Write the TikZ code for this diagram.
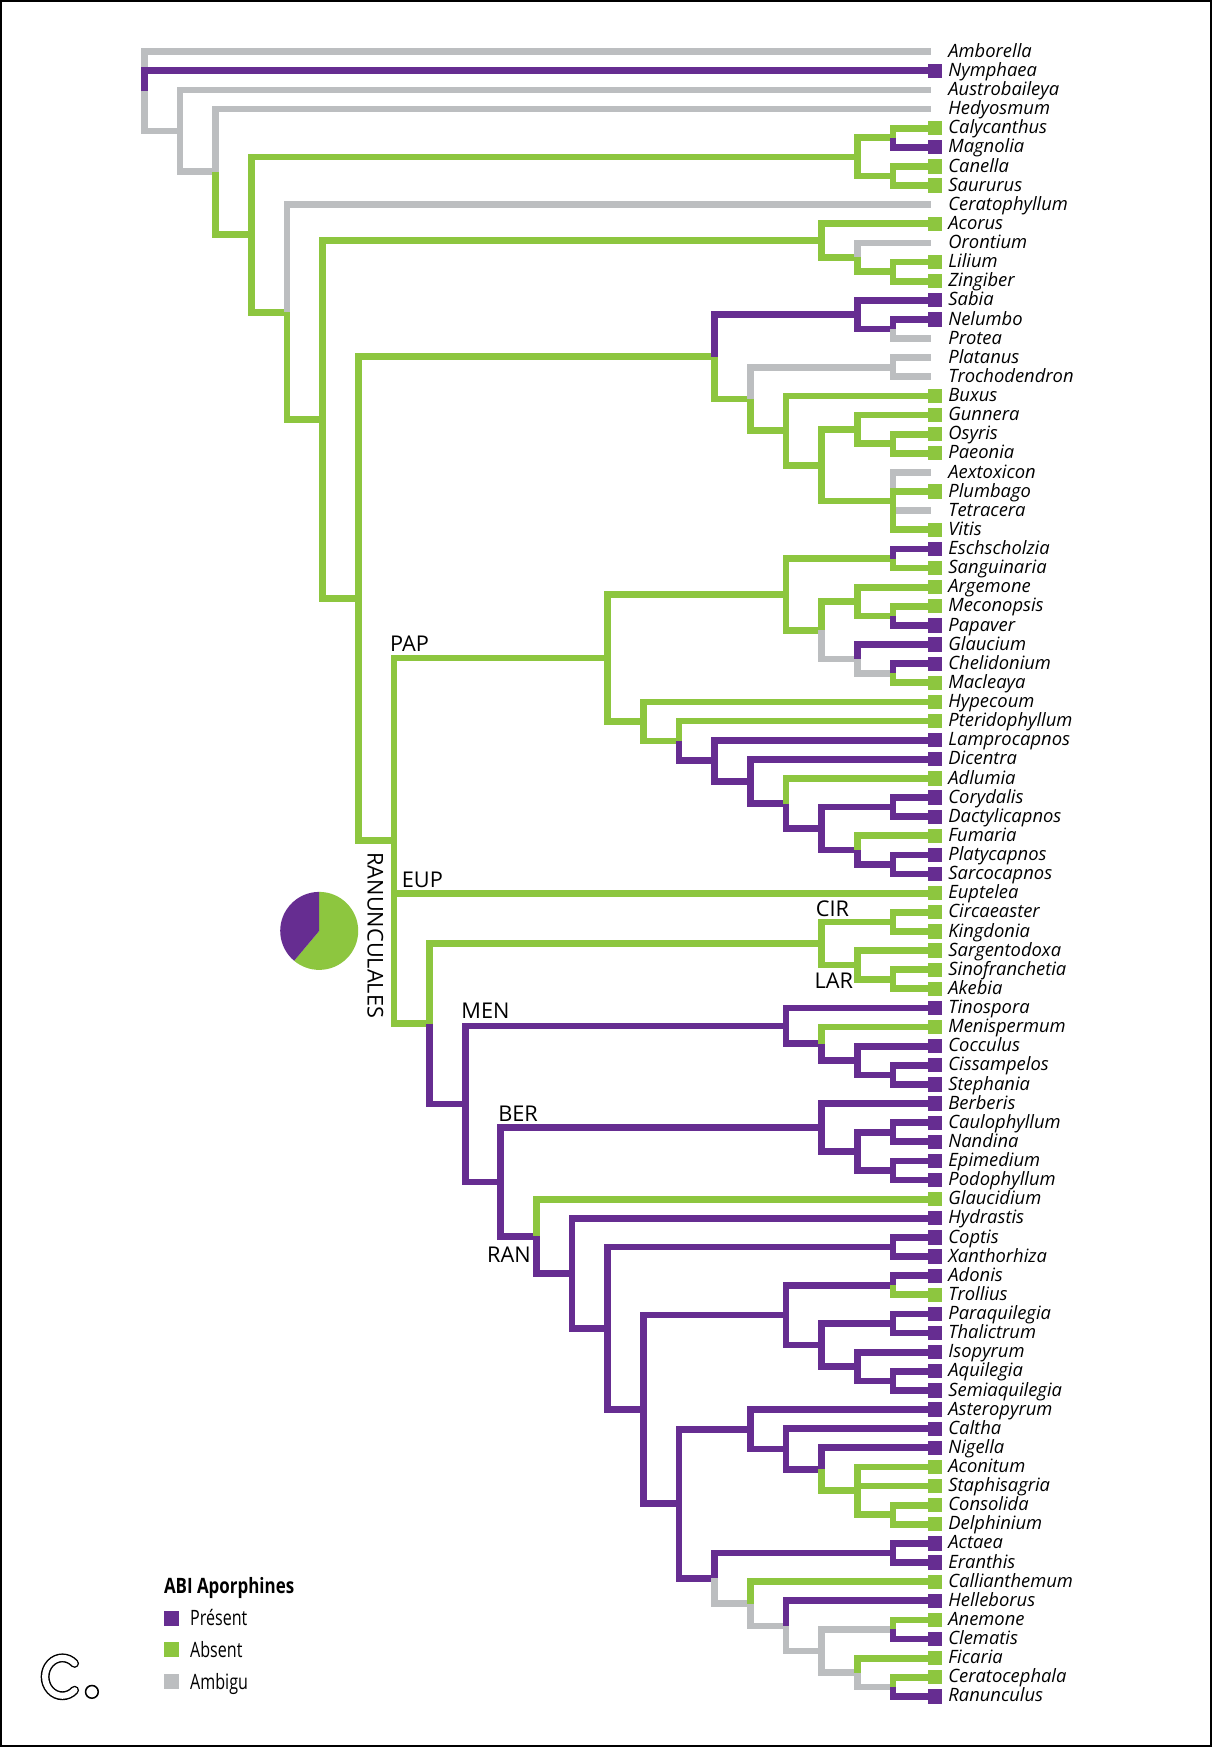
\documentclass[tikz,border=0pt]{standalone}
\usepackage{fontspec}
\setmainfont{Open Sans}
\usetikzlibrary{calc}
\definecolor{pu}{RGB}{102,45,145}
\definecolor{gr}{RGB}{141,198,63}
\definecolor{gy}{RGB}{188,190,192}
\def\gyname{gy}
\newcommand\tnd[4]{%
  \coordinate (tmp) at ($(#3)!0.5!(#4)$);
  \coordinate (#1) at (tmp -| c#2);}
\newcommand\tbr[3]{\draw[bra,#1] (#2) |- (#3);}
\def\leaflist{Amborella/gy,Nymphaea/pu,Austrobaileya/gy,Hedyosmum/gy,Calycanthus/gr,Magnolia/pu,Canella/gr,Saururus/gr,Ceratophyllum/gy,Acorus/gr,Orontium/gy,Lilium/gr,Zingiber/gr,Sabia/pu,Nelumbo/pu,Protea/gy,Platanus/gy,Trochodendron/gy,Buxus/gr,Gunnera/gr,Osyris/gr,Paeonia/gr,Aextoxicon/gy,Plumbago/gr,Tetracera/gy,Vitis/gr,Eschscholzia/pu,Sanguinaria/gr,Argemone/gr,Meconopsis/gr,Papaver/pu,Glaucium/pu,Chelidonium/pu,Macleaya/gr,Hypecoum/gr,Pteridophyllum/gr,Lamprocapnos/pu,Dicentra/pu,Adlumia/gr,Corydalis/pu,Dactylicapnos/pu,Fumaria/gr,Platycapnos/pu,Sarcocapnos/pu,Euptelea/gr,Circaeaster/gr,Kingdonia/gr,Sargentodoxa/gr,Sinofranchetia/gr,Akebia/gr,Tinospora/pu,Menispermum/gr,Cocculus/pu,Cissampelos/pu,Stephania/pu,Berberis/pu,Caulophyllum/pu,Nandina/pu,Epimedium/pu,Podophyllum/pu,Glaucidium/gr,Hydrastis/pu,Coptis/pu,Xanthorhiza/pu,Adonis/pu,Trollius/gr,Paraquilegia/pu,Thalictrum/pu,Isopyrum/pu,Aquilegia/pu,Semiaquilegia/pu,Asteropyrum/pu,Caltha/pu,Nigella/pu,Aconitum/gr,Staphisagria/gr,Consolida/gr,Delphinium/gr,Actaea/pu,Eranthis/pu,Callianthemum/gr,Helleborus/pu,Anemone/gr,Clematis/pu,Ficaria/gr,Ceratocephala/gr,Ranunculus/pu}
\begin{document}
\begin{tikzpicture}[x=1pt,y=-1pt,
  bra/.style={line width=6pt,line join=miter,line cap=butt},
  leaf/.style={font=\fontsize{16.5}{18}\selectfont\itshape,inner sep=0pt,anchor=base west},
  lab/.style={font=\fontsize{19.5}{22}\selectfont,inner sep=0pt,anchor=base west},
  leg/.style={font=\fontsize{19}{21}\selectfont,inner sep=0pt,anchor=base west}]
\useasboundingbox (0,0) rectangle (1088,1568);
\fill[white] (0,0) rectangle (1088,1568);
\draw[line width=2.2pt] (1.1,1.1) rectangle (1086.9,1566.9);
% columns
\foreach \k in {0,...,21} \coordinate (c\k) at ({129.5+32*\k},0);
% leaves
\foreach \nm/\cl [count=\i from 0] in \leaflist {
  \coordinate (\nm) at (836,{46.4+17.165*\i});
  \node[leaf] (t\nm) at (851,{46.4+17.165*\i+5}) {\nm};
}
% internal nodes
\tnd{nMagA}{21}{Calycanthus}{Magnolia}
\tnd{nMagB}{21}{Canella}{Saururus}
\tnd{nMag}{20}{nMagA}{nMagB}
\tnd{nMoC}{21}{Lilium}{Zingiber}
\tnd{nMoB}{20}{Orontium}{nMoC}
\tnd{nMo}{19}{Acorus}{nMoB}
\tnd{nNel}{21}{Nelumbo}{Protea}
\tnd{nSab}{20}{Sabia}{nNel}
\tnd{nPla}{21}{Platanus}{Trochodendron}
\tnd{nL}{21}{Osyris}{Paeonia}
\tnd{nK}{20}{Gunnera}{nL}
\tnd{nN}{21}{Aextoxicon}{Vitis}
\tnd{nJ}{19}{nK}{nN}
\tnd{nI}{18}{Buxus}{nJ}
\tnd{nH}{17}{nPla}{nI}
\tnd{nG}{16}{nSab}{nH}
\tnd{nES}{21}{Eschscholzia}{Sanguinaria}
\tnd{nArgM}{21}{Meconopsis}{Papaver}
\tnd{nArg}{20}{Argemone}{nArgM}
\tnd{nGlM}{21}{Chelidonium}{Macleaya}
\tnd{nGlau}{20}{Glaucium}{nGlM}
\tnd{nPapB}{19}{nArg}{nGlau}
\tnd{nPapA}{18}{nES}{nPapB}
\tnd{nPlat}{21}{Platycapnos}{Sarcocapnos}
\tnd{nFumG}{20}{Fumaria}{nPlat}
\tnd{nCory}{21}{Corydalis}{Dactylicapnos}
\tnd{nFumF}{19}{nCory}{nFumG}
\tnd{nFumE}{18}{Adlumia}{nFumF}
\tnd{nFumD}{17}{Dicentra}{nFumE}
\tnd{nFumC}{16}{Lamprocapnos}{nFumD}
\tnd{nFumB}{15}{Pteridophyllum}{nFumC}
\tnd{nFum}{14}{Hypecoum}{nFumB}
\tnd{nPap}{13}{nPapA}{nFum}
\tnd{nCIR}{21}{Circaeaster}{Kingdonia}
\tnd{nLARB}{21}{Sinofranchetia}{Akebia}
\tnd{nLAR}{20}{Sargentodoxa}{nLARB}
\tnd{nCL}{19}{nCIR}{nLAR}
\tnd{nMenD}{21}{Cissampelos}{Stephania}
\tnd{nMenC}{20}{Cocculus}{nMenD}
\tnd{nMenB}{19}{Menispermum}{nMenC}
\tnd{nMen}{18}{Tinospora}{nMenB}
\tnd{nBerC}{21}{Caulophyllum}{Nandina}
\tnd{nBerD}{21}{Epimedium}{Podophyllum}
\tnd{nBerB}{20}{nBerC}{nBerD}
\tnd{nBer}{19}{Berberis}{nBerB}
\tnd{nCoX}{21}{Coptis}{Xanthorhiza}
\tnd{nAdon}{21}{Adonis}{Trollius}
\tnd{nPara}{21}{Paraquilegia}{Thalictrum}
\tnd{nThD}{21}{Aquilegia}{Semiaquilegia}
\tnd{nThC}{20}{Isopyrum}{nThD}
\tnd{nThB}{19}{nPara}{nThC}
\tnd{nTh}{18}{nAdon}{nThB}
\tnd{nCons}{21}{Consolida}{Delphinium}
\tnd{nHelD}{20}{Aconitum}{nCons}
\tnd{nHelC}{19}{Nigella}{nHelD}
\tnd{nHelB}{18}{Caltha}{nHelC}
\tnd{nHelA}{17}{Asteropyrum}{nHelB}
\tnd{nActE}{21}{Actaea}{Eranthis}
\tnd{nFicB}{21}{Ceratocephala}{Ranunculus}
\tnd{nFic}{20}{Ficaria}{nFicB}
\tnd{nAnem}{21}{Anemone}{Clematis}
\tnd{nHelH}{19}{nAnem}{nFic}
\tnd{nHelG}{18}{Helleborus}{nHelH}
\tnd{nHelF}{17}{Callianthemum}{nHelG}
\tnd{nAct}{16}{nActE}{nHelF}
\tnd{nRanE}{15}{nHelA}{nAct}
\tnd{nRanD}{14}{nTh}{nRanE}
\tnd{nRanC}{13}{nCoX}{nRanD}
\tnd{nRanB}{12}{Hydrastis}{nRanC}
\tnd{nRan}{11}{Glaucidium}{nRanB}
\tnd{nQB}{10}{nBer}{nRan}
\tnd{nQ}{9}{nMen}{nQB}
\tnd{nRB}{8}{nCL}{nQ}
\tnd{nR}{7}{nPap}{nRB}
\tnd{nF}{6}{nG}{nR}
\tnd{nE}{5}{nMo}{nF}
\tnd{nD}{4}{Ceratophyllum}{nE}
\tnd{nC}{3}{nMag}{nD}
\tnd{nB}{2}{Hedyosmum}{nC}
\tnd{nA}{1}{Austrobaileya}{nB}
\tnd{nRoot}{0}{Amborella}{nA}
% branches
\tbr{gy}{nRoot}{Amborella} \tbr{gy}{nRoot}{nA} \tbr{pu}{nRoot}{Nymphaea}
\tbr{gy}{nA}{Austrobaileya} \tbr{gy}{nA}{nB}
\tbr{gy}{nB}{Hedyosmum} \tbr{gr}{nB}{nC}
\tbr{gr}{nC}{nMag} \tbr{gr}{nC}{nD}
\tbr{gr}{nMag}{nMagA} \tbr{gr}{nMag}{nMagB}
\tbr{gr}{nMagA}{Calycanthus} \tbr{pu}{nMagA}{Magnolia}
\tbr{gr}{nMagB}{Canella} \tbr{gr}{nMagB}{Saururus}
\tbr{gy}{nD}{Ceratophyllum} \tbr{gr}{nD}{nE}
\tbr{gr}{nE}{nMo} \tbr{gr}{nE}{nF}
\tbr{gr}{nMo}{Acorus} \tbr{gr}{nMo}{nMoB}
\tbr{gy}{nMoB}{Orontium} \tbr{gr}{nMoB}{nMoC}
\tbr{gr}{nMoC}{Lilium} \tbr{gr}{nMoC}{Zingiber}
\tbr{gr}{nF}{nG} \tbr{gr}{nF}{nR}
\tbr{pu}{nG}{nSab} \tbr{gr}{nG}{nH}
\tbr{pu}{nSab}{Sabia} \tbr{pu}{nSab}{nNel}
\tbr{pu}{nNel}{Nelumbo} \tbr{gy}{nNel}{Protea}
\tbr{gy}{nH}{nPla} \tbr{gr}{nH}{nI}
\tbr{gy}{nPla}{Platanus} \tbr{gy}{nPla}{Trochodendron}
\tbr{gr}{nI}{Buxus} \tbr{gr}{nI}{nJ}
\tbr{gr}{nJ}{nK} \tbr{gr}{nJ}{nN}
\tbr{gr}{nK}{Gunnera} \tbr{gr}{nK}{nL}
\tbr{gr}{nL}{Osyris} \tbr{gr}{nL}{Paeonia}
\tbr{gy}{nN}{Aextoxicon} \tbr{gy}{nN}{Tetracera} \tbr{gr}{nN}{Plumbago} \tbr{gr}{nN}{Vitis}
\tbr{gr}{nR}{nPap} \tbr{gr}{nR}{Euptelea} \tbr{gr}{nR}{nRB}
\tbr{gr}{nPap}{nPapA} \tbr{gr}{nPap}{nFum}
\tbr{gr}{nPapA}{nES} \tbr{gr}{nPapA}{nPapB}
\tbr{pu}{nES}{Eschscholzia} \tbr{gr}{nES}{Sanguinaria}
\tbr{gr}{nPapB}{nArg} \tbr{gy}{nPapB}{nGlau}
\tbr{gr}{nArg}{Argemone} \tbr{gr}{nArg}{nArgM}
\tbr{gr}{nArgM}{Meconopsis} \tbr{pu}{nArgM}{Papaver}
\tbr{pu}{nGlau}{Glaucium} \tbr{gy}{nGlau}{nGlM}
\tbr{pu}{nGlM}{Chelidonium} \tbr{gr}{nGlM}{Macleaya}
\tbr{gr}{nFum}{Hypecoum} \tbr{gr}{nFum}{nFumB}
\tbr{gr}{nFumB}{Pteridophyllum} \tbr{pu}{nFumB}{nFumC}
\tbr{pu}{nFumC}{Lamprocapnos} \tbr{pu}{nFumC}{nFumD}
\tbr{pu}{nFumD}{Dicentra} \tbr{pu}{nFumD}{nFumE}
\tbr{gr}{nFumE}{Adlumia} \tbr{pu}{nFumE}{nFumF}
\tbr{pu}{nFumF}{nCory} \tbr{pu}{nFumF}{nFumG}
\tbr{pu}{nCory}{Corydalis} \tbr{pu}{nCory}{Dactylicapnos}
\tbr{gr}{nFumG}{Fumaria} \tbr{pu}{nFumG}{nPlat}
\tbr{pu}{nPlat}{Platycapnos} \tbr{pu}{nPlat}{Sarcocapnos}
\tbr{gr}{nRB}{nCL} \tbr{pu}{nRB}{nQ}
\tbr{gr}{nCL}{nCIR} \tbr{gr}{nCL}{nLAR}
\tbr{gr}{nCIR}{Circaeaster} \tbr{gr}{nCIR}{Kingdonia}
\tbr{gr}{nLAR}{Sargentodoxa} \tbr{gr}{nLAR}{nLARB}
\tbr{gr}{nLARB}{Sinofranchetia} \tbr{gr}{nLARB}{Akebia}
\tbr{pu}{nQ}{nMen} \tbr{pu}{nQ}{nQB}
\tbr{pu}{nMen}{Tinospora} \tbr{pu}{nMen}{nMenB}
\tbr{gr}{nMenB}{Menispermum} \tbr{pu}{nMenB}{nMenC}
\tbr{pu}{nMenC}{Cocculus} \tbr{pu}{nMenC}{nMenD}
\tbr{pu}{nMenD}{Cissampelos} \tbr{pu}{nMenD}{Stephania}
\tbr{pu}{nQB}{nBer} \tbr{pu}{nQB}{nRan}
\tbr{pu}{nBer}{Berberis} \tbr{pu}{nBer}{nBerB}
\tbr{pu}{nBerB}{nBerC} \tbr{pu}{nBerB}{nBerD}
\tbr{pu}{nBerC}{Caulophyllum} \tbr{pu}{nBerC}{Nandina}
\tbr{pu}{nBerD}{Epimedium} \tbr{pu}{nBerD}{Podophyllum}
\tbr{gr}{nRan}{Glaucidium} \tbr{pu}{nRan}{nRanB}
\tbr{pu}{nRanB}{Hydrastis} \tbr{pu}{nRanB}{nRanC}
\tbr{pu}{nRanC}{nCoX} \tbr{pu}{nRanC}{nRanD}
\tbr{pu}{nCoX}{Coptis} \tbr{pu}{nCoX}{Xanthorhiza}
\tbr{pu}{nRanD}{nTh} \tbr{pu}{nRanD}{nRanE}
\tbr{pu}{nTh}{nAdon} \tbr{pu}{nTh}{nThB}
\tbr{pu}{nAdon}{Adonis} \tbr{gr}{nAdon}{Trollius}
\tbr{pu}{nThB}{nPara} \tbr{pu}{nThB}{nThC}
\tbr{pu}{nPara}{Paraquilegia} \tbr{pu}{nPara}{Thalictrum}
\tbr{pu}{nThC}{Isopyrum} \tbr{pu}{nThC}{nThD}
\tbr{pu}{nThD}{Aquilegia} \tbr{pu}{nThD}{Semiaquilegia}
\tbr{pu}{nRanE}{nHelA} \tbr{pu}{nRanE}{nAct}
\tbr{pu}{nHelA}{Asteropyrum} \tbr{pu}{nHelA}{nHelB}
\tbr{pu}{nHelB}{Caltha} \tbr{pu}{nHelB}{nHelC}
\tbr{pu}{nHelC}{Nigella} \tbr{gr}{nHelC}{nHelD}
\tbr{gr}{nHelD}{Aconitum} \tbr{gr}{nHelD}{Staphisagria} \tbr{gr}{nHelD}{nCons}
\tbr{gr}{nCons}{Consolida} \tbr{gr}{nCons}{Delphinium}
\tbr{pu}{nAct}{nActE} \tbr{gy}{nAct}{nHelF}
\tbr{pu}{nActE}{Actaea} \tbr{pu}{nActE}{Eranthis}
\tbr{gr}{nHelF}{Callianthemum} \tbr{gy}{nHelF}{nHelG}
\tbr{pu}{nHelG}{Helleborus} \tbr{gy}{nHelG}{nHelH}
\tbr{gy}{nHelH}{nAnem} \tbr{gy}{nHelH}{nFic}
\tbr{gr}{nAnem}{Anemone} \tbr{pu}{nAnem}{Clematis}
\tbr{gr}{nFic}{Ficaria} \tbr{gy}{nFic}{nFicB}
\tbr{gr}{nFicB}{Ceratocephala} \tbr{pu}{nFicB}{Ranunculus}
% leaf squares
\foreach \nm/\cl in \leaflist {
  \ifx\cl\gyname\else
    \fill[\cl] ($(\nm)+(-3,-6.4)$) rectangle ($(\nm)+(9.6,6.4)$);
  \fi
}
% clade labels
\node[lab] (lPAP) at (350,585) {PAP};
\node[lab] (lEUP) at (360.5,797) {EUP};
\node[lab] (lCIR) at (732,823) {CIR};
\node[lab] (lLAR) at (731,887) {LAR};
\node[lab] (lMEN) at (414,914) {MEN};
\node[lab] (lBER) at (447,1007) {BER};
\node[lab] (lRAN) at (437,1133) {RAN};
\node[font=\fontsize{19.5}{22}\selectfont,inner sep=0pt,rotate=-90] (lRANUN) at (337,839.5) {RANUNCULALES};
% pie
\coordinate (pc) at (286.5,835.5);
\fill[gr] (pc) -- ++(270:35) arc[start angle=270,end angle=490,radius=35] -- cycle;
\fill[pu] (pc) -- ++(130:35) arc[start angle=130,end angle=270,radius=35] -- cycle;
% legend
\node[leg] (lhead) at (147,1430) {\scalebox{0.8}[1]{\bfseries ABI Aporphines}};
\fill[pu] (147,1445.5) rectangle (160.5,1459);
\node[leg] (lpre) at (170.5,1459) {\scalebox{0.76}[1]{Présent}};
\fill[gr] (147,1474) rectangle (160.5,1487.5);
\node[leg] (labs) at (170.5,1487.5) {\scalebox{0.76}[1]{Absent}};
\fill[gy] (147,1502.5) rectangle (160.5,1516);
\node[leg] (lamb) at (170.5,1516) {\scalebox{0.76}[1]{Ambigu}};
% C.
\draw[line width=8pt,line cap=round] (56,1505) ++(45:15.5 and 17) arc[start angle=45,end angle=315,x radius=15.5,y radius=17];
\draw[white,line width=5.4pt,line cap=round] (56,1505) ++(45:15.5 and 17) arc[start angle=45,end angle=315,x radius=15.5,y radius=17];
\draw[line width=1.4pt] (82.5,1518.5) circle[radius=5.7];
\end{tikzpicture}
\end{document}
